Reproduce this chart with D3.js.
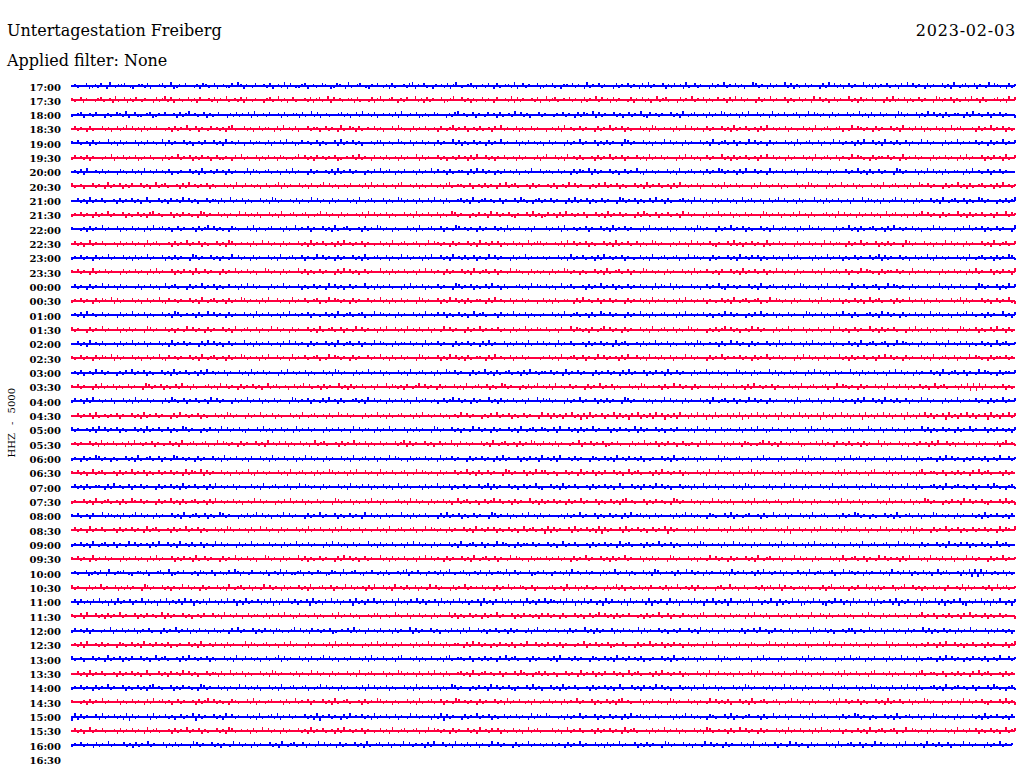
<!DOCTYPE html>
<html><head><meta charset="utf-8">
<script src="https://cdn.jsdelivr.net/npm/d3@7"></script>
<style>body{margin:0;background:#fff}svg{display:block}</style>
</head><body><svg id="c" width="1024" height="780"></svg>
<script>
const title = "Untertagestation Freiberg";
const subtitle = "Applied filter: None";
const dateLabel = "2023-02-03";
const channelLabel = "HHZ - 5000";
const hourLabels = ["17:00","17:30","18:00","18:30","19:00","19:30","20:00","20:30","21:00","21:30","22:00","22:30","23:00","23:30","00:00","00:30","01:00","01:30","02:00","02:30","03:00","03:30","04:00","04:30","05:00","05:30","06:00","06:30","07:00","07:30","08:00","08:30","09:00","09:30","10:00","10:30","11:00","11:30","12:00","12:30","13:00","13:30","14:00","14:30","15:00","15:30","16:00","16:30"];
const traceColors = ["#0000ff", "#ff0040"];
// each digit is one sample: 4 = zero, above 4 = upward deflection, below 4 = downward
const traces = [
"4534462353642743556432455362445634723546443526534624533647525436445362453726433562453465423654273456432546435263445367254634254536257434563245364263455372463544623546342554635427354635442635463542637354462536452734635442635473546352447635426354473625346354426374635246354473526354634526474635426354463527435634625437465342635",
"5346254435634527346253643544263573624534635264453625473453626435442563473524634453625634726453455263443625734564253644735263544623574463525346354264453726354453624735634546354263547364526354436254635247356344263547354625346452637463544263547354462534635427463524635447352635463442637354625346354427635462534637452634456352746",
"3456245364425346537246334562354644526357453462534644253635462734536445263455263473624534456352463745362454536274354623534654425367453462543645263453746352446354435463542636547263544635246354732645354463527435634526354763545263744635427354634562437465354263544635473526346354427635446253746352634554263745346254635442",
"4635426344635246357463526354644352635473462543645352673446352463554263745362446355246354273465263454635244637534263546345264357354624536345264735436253463544245362745346354426354735462534463527634545263474635426354463527354634526374535462543463527435634562437465354263544635274536462534635247356344526354735462534",
"5463452635447352635446253645347263544635245364463527453642463554362546374523645346253446273546352445366245347534625463542635447362534635426354735446253645352463544263547354462536354427635446352543746354263544635274356346254374635426354463527345634625437463545263744635274536346254374635442635473545463542635473546",
"3645362544354725463546235463442635473546253645246335426473544625364526534357463526453546234546373542645363452635447263544635245364526374463525463452635443625744635274536344526354735462544635273546354426374635246354473526354634526474635426354463527435634625437465342635546354273546354426354635426373544625364527346",
"4536274453635442653463527453645362435446352734536452635443726534563452463735442635445362735463544253647356425364452635473645263455426374635425364536245374463553463542636547263544635246354732645354463527435634526354763545263744635427354634562437465354263544635473526346354427635446253746352634554263745346254635444",
"6345244635427354625364463524735634452637453546253446352743645352463457263544635264357463524536445362735463452674453625346435267345534624536354264735634452635445362453746354425364735462534463527354634526374535462544635273546354426374535462534463527635442635473546253446352743563452634754635442635473526345634526374535",
"4463527354634452635463524734463526453746352446355263473546253446352763544536254374635426354463527435634462534763545263463745263445635274356453462544637534256354635442637354625346354427635462534637452634456352746354263546352473563452463574634526354473526354634526447365352643574635426354463527435634625347635442536357",
"3546354263547354462534635267453446253645342763544635254374635362446352734563456243574635426354453627463546253446352735463462534763544253645274635463254463735236452637453546244635273546354426375346254634527463544263547354625346354427635462543637452634456352746354263546352473564352463574635426354473526354634526447365",
"5443526354735446253463542637456352463544526357463534265344637254356445263473546254463527345634452635476354253446352734563462543764535426354463527354643526444635462734535462544635273546354426374535462534463527635442635473546253446352743563452634754635442635473526345634526374535463524537463544253647354625346354427",
"4635247354634452635463542735634452635473546253446352763454526347463542635446352735463452637453546254346352743563456243746535426354463527453646253463524735663544536274635462534463527354634625347635442536452746354632544637352546354273546354426354635427463554263547354462536354427635446352543746354263544635274356346",
"3546354263547354463526354735446253635442763544635254374635426354463527435634625437463542635446352734563462543746354526374463527453634625437463544263547354545354463527354634526374535462543463527435634562437465354263544635274536462534635247356344526354735462534635446357263544635246354732645354463527435634526354763",
"5463542735463544263546354263735446253645273463544263547354635244763542635447362534635442637463524635447352635463452647463542635446352743563462543746534263535426354763542534463527345634625437645354263544635273546435264463527354634625374635426354463527435634625437465342635546354273546354426354635426373544625364527",
"4635426354736452635443625463524735634426354735462534645263746354426354735446253463542746352463544735263546344263735462534635442763546253463745263445635274654635247356344526354735462534635463542736547263544635246354732645354463527435634526354763545263744635427354634562437465354263544635473526346354427635446253746",
"3546354263654726354463524635473264535446352743563452635476354526374463542735463456243746535426354463547352634635442763544625374635263455426374534625463544246352634554263745346254635442635463527354634526374535462543463527435634562437465354263544635274536462534635247356344526354735462534635446357263544635246354732",
"4536274534635442635473546253446352763454526347463542635446352735463452637453546254346352743563456243746535426354463527453646253463524735634452635473546253435446352743563452634754635442635473526345634526374535463524537463544253647354625346354427635462534637452634456352746354263546352473563452463574634526354473526",
"6354426354735446253635442763544635254374635426354463527435634625437463542635446352734563462543746354526374463527453634625437463544263547354546354263547354654634526447365352643574635426354463527435634625347635442536357463524537463544263547354462534635427463524635447352635463442637354625346354427635462534637452634",
"4463527453634452635473546254463527354635442637463524635447352635463452647463542635446352743563462543746534263554635427354635442635463542637354462536452734646354273546344526354635427356344526354735462534463527634545263474635426354463527354634526374535462543463527435634562437465354263544635274536462534635247356345",
"5346354263654726354463524635473264535446352743563452635476354526374463542735463456243746535426354463547352634635442763544625374635263455426374534625463544435463527435634625437463545263744635274536346254374635442635473545463542635473546354426374635246354473526354634526474635426354463527435634625437465342635546354",
"4536245374635442536473546253446352735463452637453546254463527354635442637453546253446352763544263547354625344635274356345263475463544263547352634563452637453554635427354635442635463542637354462536452734635442635473546352447635426354473625346354426374635246354473526354634526474635426354463527435634625437465342635546",
"5463544263735462534635442763546253463745263445635274635426354635247356345246357463452635447352635463452644736535264357463542635446352743563462534763544253635745362745346354426354735462534463527634545263474635426354463527354634526374535462543463527435634562437465354263544635274536462534635247356344526371717264353462534",
"3645263745354624463527354635442637534625463452746354426354735462534635442763546254363745263445635274635426354635247356435246357463542635447352635463452644736563544263547354462536354427635446352543746354263544635274356346254374635426354463527345634625437463545263744635274536346254374635442635473545463542635473546",
"4463546273453546254463527354635442637453546253446352763544263547354625344635274356345263475463544263547352634563452637453546352453746354425364735462534635442746263526473516273546254726351647253627461536274526374615273546263715264736254617352647362546173526473625461735264736254617352647362546173526473625461735264736",
"6354453627463546253446352735463462534763544253645274635463254463735254635427354635442635463542746355426354735446253635442763544635254374635426354463527435634653462744635263547354462536453472635446352453644635274536424635543625463745236453462534462735463524453662453475346254635426354473625346354263547354462536453526",
"4535446352735463452637453546254346352743563456243746535426354463527453646253463524735634452635473546253463544635726354463524635473264535446352743563452635476336453625443547254635462354634426354735462536452463354264735446253645265343574635264535462345463735426453634526354472635446352453645263744635254634526354436257453",
"3542635476354253446352734563462543764535426354463527354643526446352735463462537463542635446352743563462543746534263554635427354635442635463542637354462536452745362744536354426534635274536453624354463527345364526354437265345634524637354426354453627354635442536473564253644526354736452634554263746354253645362453744635",
"5463524735634452635473546253463546354273654726354463524635473264535446352743563452635476354526374463542735463456243746535426354463547352634635442763544625374663452446354273546253644635247356344526374535462534463527436453524634572635446352643574635245364453627354634526744536253464352673455346245363542647356344526354",
"4635263455426374534625463544263546352735463452637453546254346352743563456243746535426354463527453646253463524735634452635473546253463544635726354463524635473244635273546344526354635247344635264537463524463552634735462534463527635445362543746354263544635274356344625347635452634637452634456352743564534625446375342563",
"3544635274356345263475463544263547352634563452637453546352453746354425364735462534635442763546253463745263445635274635426354635247356345246357463452635447352635463542635473544625346352674534462536453427635446352543746353624463527345634562435746354263544536274635462534463527354634625347635442536452746354632544637352",
"5463452644736535264357463542635446352743563462534763544253635746352453746354426354735446253463542746352463544735263546344263735462534635442763546253463745263454435263547354462534635426374563524635445263574635342653446372543564452634735462544635273456344526354763542534463527345634625437645354263544635273546435264",
"4635427354634452635463542735634452635473546253446352763454526347463542635446352735463452637453546254346352743563456243746535426354463527453646253463524735634517263544627354635271635446273546352463547163544635274635446352734563725463544635271546354263745463527354634625437463545263716354426354735462534635463542736547",
"3546352743563462543746354526374463527453634625437463544263547354546354263547354635442637463524635447352635463452647463542635446352743563462543746534263554635446352473546344526354635427356344526354735462534463527634545263474635426354463527354634526374535462543463527435634562437465354263544635274536462534635247356344",
"5463542735463544263546354263735446253645273463544263547354635244763542635447362534635442637463524635447352635463452647463542635446352743563462543746534263554635463542635473544635263547354462536354427635446352543746354263544635274356346254374635426354463527345634625437463545263744635274536346254374635442635473545",
"4534462353642743556432455362445634723546443526534624533647525436445362453726433562453465423654273456432546435263445367254634254536257434563245364263455372463544623546342545362745346354426354735462534463527634545263474635426354463527354634526374535462543463527435634562437465354263544635274536462534635247356344526371717264353462534",
"6354426354735446253635442763544635254374635426354463527435634625437463542635446352734563462543746354526374463527453634625437463544263547354546354263547354653462544356345273462536435442635736245346352644536254734536264354425634735246344536256347264534552634436257345642536447352635446235744635253463542644537263544536247356345",
"4626352647351627354625472635164725362746153627452637461527354626371526473625461735264736254617352647362546173526473625461735264736254617352647362546173526473653627461527364251736452617354627153642736154627351647253617426357146253741625374612537462153746251736452716354627153642617354726153647215364725163742516",
"5346274463526354735446253645347263544635245364463527453642463554362546374523645346253446273546352445366245347534625463542635447362534635426354735446253645352646354263446352463574635263546443526354734625436453526734463524635542637453624463552463542734652634546352446375342635463452643573546245363452647354362534635442",
"3645362544354725463546235463442635473546253645246335426473544625364526534357463526453546234546373542645363452635447263544635245364526374463525463452635443625745354634526354473526354462536453472635446352453644635274536424635543625463745236453462534462735463524453662453475346254635426354473625346354263547354462536453524",
"4536274453635442653463527453645362435446352734536452635443726534563452463735442635445362735463544253647356425364452635473645263455426374635425364536245374463536453625443547254635462354634426354735462536452463354264735446253645265343574635264535462345463735426453634526354472635446352453645263744635254634526354436257",
"6345244635427354625364463524735634452637453546253446352743645352463457263544635264357463524536445362735463452674453625346435267345534624536354264735634452635445362744536354426534635274536453624354463527345364526354437265345634524637354426354453627354635442536473564253644526354736452634554263746354253645362453744635",
"4463527354634452635463524734463526453746352446355263473546253446352763544536254374635426354463527435634462534763545263463745263445635274356453462544637534256363452446354273546253644635247356344526374535462534463527436453524634572635446352643574635245364453627354634526744536253464352673455346245363542647356344526354",
"3546354263547354462534635267453446253645342763544635254374635362446352734563456243574635426354453627463546253446352735463462534763544253645274635463254463735244635273546344526354635247344635264537463524463552634735462534463527635445362543746354263544635274356344625347635452634637452634456352743564534625446375342563",
"5443526354735446253463542637456352463544526357463534265344637254356445263473546254463527345634452635476354253446352734563462543764535426354463527354643526435463542635473544625346352674534462536453427635446352543746353624463527345634562435746354263544536274635462534463527354634625347635442536452746354632544637352",
"1726354462735463527163544627354635246354716354463527463544635273456372546354463527154635426374546352735463462543746354526371635442635473546253463546354273654754435263547354462534635426374563524635445263574635342653446372543564452634735462544635273456344526354763542534463527345634625437645354263544635273546435264",
"4635247354634452635463542735634452635473546253446352763454526347463542635446352735463452637453546254346352743563456243746535426354463527453646253463524735634446352473546344526354635427356344526354735462534463527634545263474635426354463527354634526374535462543463527435634562437465354263544635274536462534635247356",
"3546354263547354463526354735446253635442763544635254374635426354463527435634625437463542635446352734563462543746354526374463527453634625437463544263547354535463542635473544635263547354462536354427635446352543746354263544635274356346254374635426354463527345634625437463545263744635274536346254374635442635473545"
];
const traceEnds = [1015, 1012];

const svg = d3.select("#c");
const font = "'DejaVu Serif', serif";

svg.append("text").attr("x", 7).attr("y", 36).attr("font-family", font).attr("font-size", 16).attr("fill", "#000").text(title);
svg.append("text").attr("x", 7).attr("y", 66).attr("font-family", font).attr("font-size", 16).attr("fill", "#000").text(subtitle);
svg.append("text").attr("x", 1016).attr("y", 36).attr("text-anchor", "end").attr("font-family", font).attr("font-size", 16)
  .attr("letter-spacing", 0.8).attr("fill", "#000").text(dateLabel);

const y = d3.scaleLinear().domain([0, hourLabels.length - 1]).range([86, 759.5]);
const amp = d3.scaleLinear().domain([0, 4]).range([1, 5]);

svg.append("g").selectAll("text").data(hourLabels).join("text")
  .attr("x", 61).attr("y", (d, i) => y(i) + 1)
  .attr("text-anchor", "end").attr("dominant-baseline", "central")
  .attr("font-family", font).attr("font-size", 10).attr("font-weight", 600).attr("fill", "#000")
  .text(d => d);

svg.append("text")
  .attr("transform", `translate(15,${y((hourLabels.length - 1) / 2)}) rotate(-90)`)
  .attr("text-anchor", "middle").attr("font-family", font).attr("font-size", 10)
  .attr("word-spacing", 5).attr("fill", "#000").text(channelLabel);

const g = svg.append("g").attr("shape-rendering", "crispEdges");
traces.forEach((s, i) => {
  const vals = s.split("").map(c => +c - 4);
  const last = i === traces.length - 1;
  const x = d3.scaleLinear().domain([0, vals.length - 1]).range([72, last ? traceEnds[1] : traceEnds[0]]);
  const color = traceColors[i % 2];
  const tg = g.append("g").attr("transform", `translate(0,${Math.round(y(i))})`);
  tg.append("rect").attr("x", 71).attr("y", -1).attr("width", x.range()[1] - 71).attr("height", 2).attr("fill", color);
  tg.selectAll("rect.s").data(vals.filter(d => d !== 0).length ? vals : []).join("rect").attr("class", "s")
    .attr("x", (d, j) => x(j) - 0.7)
    .attr("width", 1.5)
    .attr("y", d => d > 0 ? -amp(d) : 0)
    .attr("height", d => d === 0 ? 0 : amp(Math.abs(d)))
    .attr("fill", color);
});
</script>
</body></html>
